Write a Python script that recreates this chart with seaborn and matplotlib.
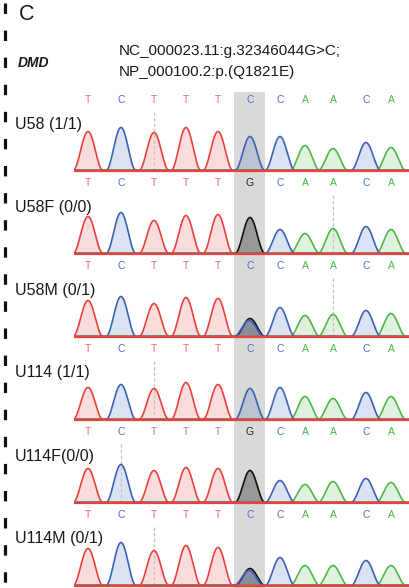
import numpy as np
import matplotlib
matplotlib.use("Agg")
import matplotlib.pyplot as plt
from matplotlib.lines import Line2D
import matplotlib.transforms as mtransforms
import seaborn as sns

sns.set_theme(style="white")
plt.rcParams["font.family"] = ["Liberation Sans", "DejaVu Sans"]
plt.rcParams["lines.scale_dashes"] = False

# ---------------- data ----------------
ref_bases = ["T", "C", "T", "T", "T", "C", "C", "A", "A", "C", "A"]
peak_pos = [88, 121, 154, 186, 218, 250, 280, 305, 333, 366, 391]
track_names = ["U58 (1/1)", "U58F (0/0)", "U58M (0/1)",
               "U114 (1/1)", "U114F(0/0)", "U114M (0/1)"]
called_mut = ["C", "G", "C", "C", "G", "C"]      # base call shown at the variant
primary_mut = ["C", "G", "G", "C", "G", "G"]     # dominant trace at the variant
secondary_c = [0, 0, 16, 0, 0, 15]               # C signal under the G peak
peak_heights = [
    [39, 43, 38, 43, 39, 34, 34, 25, 22, 28, 23],
    [37, 41, 33, 38, 39, 36, 24, 20, 25, 27, 24],
    [36, 40, 33, 39, 38, 18, 29, 21, 22, 26, 23],
    [32, 35, 31, 37, 35, 31, 32, 23, 21, 27, 23],
    [34, 38, 32, 35, 34, 32, 22, 18, 21, 24, 20],
    [37, 43, 35, 40, 38, 17, 28, 20, 20, 25, 20],
]
cursor_idx = [2, 8, 8, 2, 1, 2]
mut_idx = 5

line_col = {"T": "#e8413e", "C": "#3c62b4", "A": "#4fb848", "G": "#111111"}
text_col = {"T": "#f06a66", "C": "#4a6fc4", "A": "#46bb46", "G": "#222222"}
fill_alpha = {"T": 0.18, "C": 0.18, "A": 0.18, "G": 0.32}

W, H = 410, 588
fig = plt.figure(figsize=(W / 100, H / 100), dpi=100)

def fx(px):
    return px / W

def fy(px):
    return 1 - px / H

x_lo, x_hi = 74, 410
ax_left, ax_w = fx(x_lo), fx(x_hi) - fx(x_lo)

# background axes with the highlighted variant column
bg = fig.add_axes([ax_left, 0, ax_w, 1 - 92 / H])
bg.set_xlim(x_lo, x_hi)
bg.set_ylim(0, 1)
band_lo = (peak_pos[mut_idx - 1] + peak_pos[mut_idx]) / 2
band_hi = (peak_pos[mut_idx] + peak_pos[mut_idx + 1]) / 2
bg.axvspan(band_lo, band_hi, color="#d9d9d9", lw=0)
bg.axis("off")

xs = np.linspace(x_lo, x_hi, 1400)
half_w = 15.0


def peak_shape(center):
    u = (xs - center) / half_w
    return np.where(np.abs(u) < 1, np.cos(np.pi * u / 2) ** 2, 0.0)


first_baseline, spacing = 171, 83

for t in range(len(track_names)):
    b = first_baseline + spacing * t
    ax = fig.add_axes([ax_left, (H - b - 2) / H, ax_w, 84 / H])
    ax.set_xlim(x_lo, x_hi)
    ax.set_ylim(-2, 82)
    ax.patch.set_alpha(0)
    ax.axis("off")

    bases_t = list(ref_bases)
    bases_t[mut_idx] = primary_mut[t]
    signal = {k: np.full_like(xs, 0.5) for k in "GACT"}
    for i, (p, h) in enumerate(zip(peak_pos, peak_heights[t])):
        signal[bases_t[i]] += h * peak_shape(p)
    if secondary_c[t]:
        signal["C"] += secondary_c[t] * peak_shape(peak_pos[mut_idx] - 1)

    for k in "GACT":
        ax.fill_between(xs, 0, signal[k], color=line_col[k], alpha=fill_alpha[k], lw=0)
    # cursor line
    cx = peak_pos[cursor_idx[t]]
    ax.plot([cx, cx], [0, 61], color="#c4c4c4", lw=0.9, dashes=(2.5, 1.5), zorder=1)
    for k in "GACT":
        sns.lineplot(x=xs, y=signal[k], ax=ax, color=line_col[k], lw=1.2,
                     estimator=None, sort=False, legend=False)
    ax.plot([x_lo, x_hi], [0, 0], color=line_col["T"], lw=1.6, zorder=5)

    # base calls
    for i, p in enumerate(peak_pos):
        base = called_mut[t] if i == mut_idx else ref_bases[i]
        ax.text(p, 71, base, color=text_col[base], fontsize=7.5,
                ha="center", va="center")
    # sample label
    tr = mtransforms.blended_transform_factory(fig.transFigure, ax.transData)
    ax.text(fx(15), 47, track_names[t], transform=tr, fontsize=11.5,
            ha="left", va="center", color="#1a1a1a")

# titles
fig.text(fx(19), fy(15), "C", fontsize=15.5, ha="left", va="center", color="#1a1a1a")
fig.text(fx(18), fy(63), "DMD", fontsize=10, weight="bold", style="italic",
         ha="left", va="center", color="#1a1a1a")
fig.text(fx(119), fy(51), "NC_000023.11:g.32346044G>C;", fontsize=11,
         ha="left", va="center", color="#1a1a1a")
fig.text(fx(119), fy(72), "NP_000100.2:p.(Q1821E)", fontsize=11,
         ha="left", va="center", color="#1a1a1a")

# left dashed rule
fig.add_artist(Line2D([fx(5), fx(5)], [fy(3), 0], transform=fig.transFigure,
                      color="#111111", lw=2.3, dashes=(7.5, 12), solid_capstyle="butt",
                      dash_capstyle="butt"))

fig.savefig("out.png", dpi=100)
